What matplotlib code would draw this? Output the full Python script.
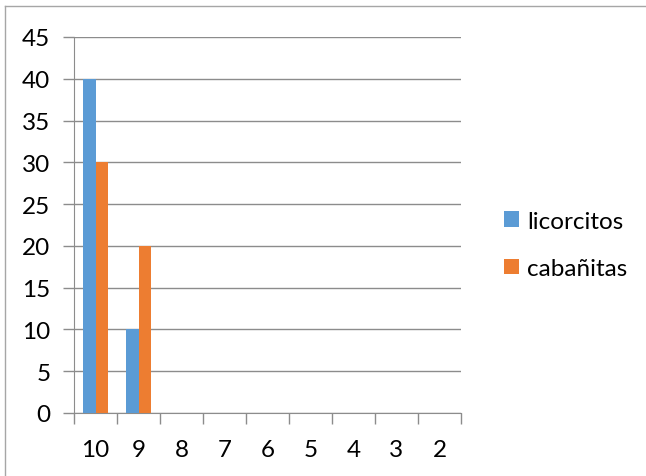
import matplotlib
matplotlib.use("Agg")
import matplotlib.pyplot as plt
from matplotlib.lines import Line2D
from matplotlib.patches import Patch
import numpy as np

categories = ["10", "9", "8", "7", "6", "5", "4", "3", "2"]
licorcitos = [40, 10, 0, 0, 0, 0, 0, 0, 0]
cabanitas = [30, 20, 0, 0, 0, 0, 0, 0, 0]
series_names = ["licorcitos", "cabañitas"]
y_ticks = [0, 5, 10, 15, 20, 25, 30, 35, 40, 45]

plt.rcParams["font.family"] = ["Lato", "DejaVu Sans"]

W, H = 646, 477
fig = plt.figure(figsize=(W / 100, H / 100), dpi=100)
ax = fig.add_axes([74 / W, 1 - 414 / H, (461 - 74) / W, (414 - 38) / H])

grid_c = "#8c8c8c"
blue = "#5B9BD5"
orange = "#ED7D31"
fs = 17.5

x = np.arange(len(categories))
bw = 0.28
ax.bar(x - bw / 2, licorcitos, width=bw, color=blue, zorder=3)
ax.bar(x + bw / 2, cabanitas, width=bw, color=orange, zorder=3)

ax.set_xlim(-0.5, len(categories) - 0.5)
ax.set_ylim(0, 45)
ax.set_yticks(y_ticks)
ax.set_yticklabels([str(v) for v in y_ticks], fontsize=fs)
ax.yaxis.grid(True, color=grid_c, linewidth=1.0, zorder=0)
ax.tick_params(axis="y", length=8, color=grid_c, width=1.0, pad=9)

# category labels centred, tick marks on category boundaries
ax.set_xticks(x)
ax.set_xticklabels(categories, fontsize=fs)
ax.tick_params(axis="x", which="major", length=0, pad=18.5)
ax.set_xticks(np.arange(-0.5, len(categories)), minor=True)
ax.tick_params(axis="x", which="minor", length=8, color=grid_c, width=1.0)

for s in ["top", "right"]:
    ax.spines[s].set_visible(False)
ax.spines["left"].set_color(grid_c)
ax.spines["bottom"].set_color(grid_c)
ax.set_axisbelow(True)

handles = [Patch(facecolor=blue), Patch(facecolor=orange)]
fig.legend(handles, series_names, loc="center left",
           bbox_to_anchor=(482 / W, 1 - 246 / H), frameon=False,
           fontsize=fs, handlelength=0.62, handleheight=0.62,
           handletextpad=0.33, labelspacing=1.08)

# chart-area border
border_c = "#a6a6a6"
fig.add_artist(Line2D([5 / W, 5 / W], [0, 1 - 7 / H], transform=fig.transFigure,
                      color=border_c, linewidth=1.0))
fig.add_artist(Line2D([5 / W, 1], [1 - 7 / H, 1 - 7 / H], transform=fig.transFigure,
                      color=border_c, linewidth=1.0))

fig.savefig("out.png", dpi=100)
